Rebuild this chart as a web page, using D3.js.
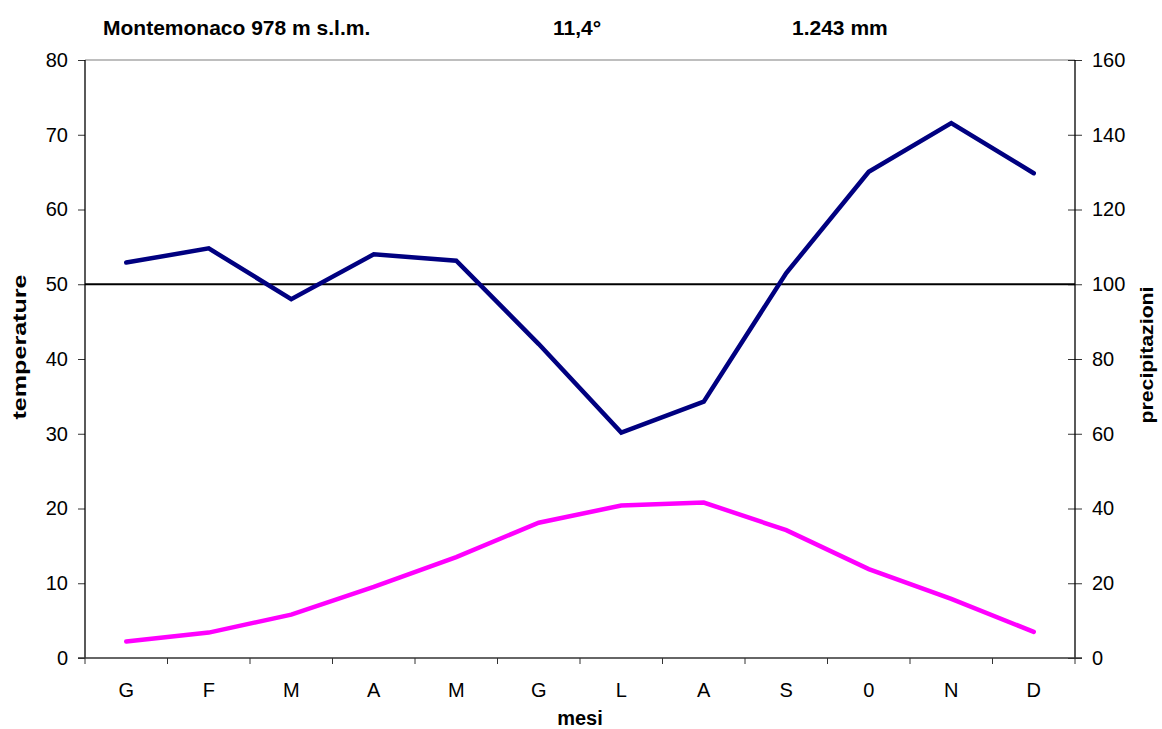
<!DOCTYPE html>
<html><head><meta charset="utf-8">
<script src="https://cdn.jsdelivr.net/npm/d3@7"></script>
<style>body{margin:0;background:#fff}svg{font-family:"Liberation Sans",Arial,sans-serif}</style>
</head><body>
<svg id="c" width="1162" height="729"></svg>
<script>
const months = ["G","F","M","A","M","G","L","A","S","0","N","D"];
const temperature = [2.2,3.4,5.8,9.5,13.5,18.1,20.4,20.8,17.1,11.9,7.9,3.5];
const precipitation = [105.8,109.6,96,108,106.3,84,60.3,68.6,103,130.1,143.1,129.7];
const tempTicks = [0,10,20,30,40,50,60,70,80];
const precTicks = [0,20,40,60,80,100,120,140,160];
const titleTexts = ["Montemonaco 978 m s.l.m.","11,4°","1.243 mm"];
const refTemp = 50;

const svg = d3.select("#c");
const L=85,R=1075,T=60,B=658;
const FONT = "Liberation Sans, Arial, sans-serif";
const x = d3.scaleBand().domain(d3.range(months.length)).range([L,R]);
const yT = d3.scaleLinear().domain([0,80]).range([B,T]);
const yP = d3.scaleLinear().domain([0,160]).range([B,T]);

// top border
svg.append("line").attr("x1",L).attr("x2",R).attr("y1",T).attr("y2",T).attr("stroke","#a8a8a8").attr("stroke-width",1.5);

// left axis
const la = svg.append("g").attr("transform",`translate(${L},0)`)
  .call(d3.axisLeft(yT).tickValues(tempTicks).tickSize(7).tickPadding(10));
la.select(".domain").remove();
la.append("line").attr("y1",T).attr("y2",B).attr("stroke","#000").attr("stroke-width",1.3);
la.selectAll(".tick line").attr("stroke","#333");
la.selectAll("text").attr("font-size",20).attr("fill","#000").attr("font-family",FONT);

// right axis
const ra = svg.append("g").attr("transform",`translate(${R},0)`)
  .call(d3.axisRight(yP).tickValues(precTicks).tickSize(7).tickPadding(10));
ra.select(".domain").remove();
ra.selectAll(".tick line").attr("x1",-7).attr("x2",7).attr("stroke","#333");
ra.append("line").attr("y1",T).attr("y2",B).attr("stroke","#000").attr("stroke-width",1.3);
ra.selectAll("text").attr("font-size",20).attr("fill","#000").attr("font-family",FONT);

// bottom axis
const ba = svg.append("g").attr("transform",`translate(0,${B})`);
ba.append("line").attr("x1",L-7).attr("x2",R+7).attr("stroke","#333").attr("stroke-width",1.3);
const bounds = d3.range(months.length+1).map(i => i<months.length ? x(i) : x(months.length-1)+x.bandwidth());
ba.selectAll(".bt").data(bounds).join("line").attr("x1",d=>d).attr("x2",d=>d).attr("y1",0).attr("y2",6).attr("stroke","#333");
ba.selectAll(".lab").data(months).join("text")
  .attr("x",(d,i)=>x(i)+x.bandwidth()/2).attr("y",39).attr("text-anchor","middle")
  .attr("font-size",20).text(d=>d);

// reference line at 50
svg.append("line").attr("x1",L).attr("x2",R).attr("y1",yT(refTemp)).attr("y2",yT(refTemp)).attr("stroke","#000").attr("stroke-width",2);

// lines
const cx = i => x(i)+x.bandwidth()/2;
svg.append("path").datum(precipitation)
  .attr("d",d3.line().x((d,i)=>cx(i)).y(d=>yP(d)))
  .attr("fill","none").attr("stroke","#000080").attr("stroke-width",4.5).attr("stroke-linejoin","miter").attr("stroke-linecap","round");
svg.append("path").datum(temperature)
  .attr("d",d3.line().x((d,i)=>cx(i)).y(d=>yT(d)))
  .attr("fill","none").attr("stroke","#ff00ff").attr("stroke-width",4.5).attr("stroke-linejoin","miter").attr("stroke-linecap","round");

// titles
const tx = [103,553,792];
svg.selectAll(".tt").data(titleTexts).join("text")
  .attr("x",(d,i)=>tx[i]).attr("y",35).attr("font-size",21).attr("font-weight","bold").text(d=>d);

svg.append("text").attr("transform","translate(26,347) rotate(-90)").attr("text-anchor","middle")
  .attr("font-size",18).attr("font-weight","bold")
  .attr("textLength",145).attr("lengthAdjust","spacingAndGlyphs").text("temperature");
svg.append("text").attr("transform","translate(1153,355) rotate(-90)").attr("text-anchor","middle")
  .attr("font-size",18).attr("font-weight","bold")
  .attr("textLength",137).attr("lengthAdjust","spacingAndGlyphs").text("precipitazioni");
svg.append("text").attr("x",580).attr("y",725).attr("text-anchor","middle")
  .attr("font-size",20).attr("font-weight","bold").text("mesi");
</script>
</body></html>
